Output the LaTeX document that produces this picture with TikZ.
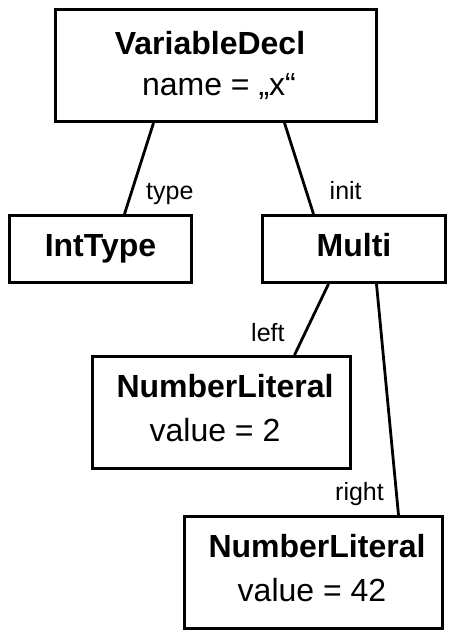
\documentclass[tikz,border=0pt]{standalone}
\usepackage{fontspec}
\setmainfont{Liberation Sans}
\begin{document}
\begin{tikzpicture}[x=1pt,y=-1pt,
  box/.style={draw, line width=3pt, inner sep=0pt, align=center},
  bigtwo/.style={box, font=\fontsize{32}{44}\selectfont, minimum width=258pt, minimum height=112pt},
  small/.style={box, font=\fontsize{32}{38}\selectfont\bfseries, minimum height=67pt, text height=23pt, text depth=8pt},
  conn/.style={line width=2.8pt},
  lbl/.style={font=\fontsize{25}{30}\selectfont, inner sep=0pt, anchor=base west}]
\useasboundingbox (0,0) rectangle (456,639);
\node[box, font=\fontsize{32}{41}\selectfont, minimum width=321pt, minimum height=112pt] (vd) at (216,65.5)
  {{\bfseries VariableDecl}\hspace*{12pt}\\ \hspace*{6pt}name = „x“};
\node[small, minimum width=182pt] (it) at (100.5,249) {IntType};
\node[small, minimum width=183pt] (mu) at (354,249) {Multi};
\node[bigtwo] (nl1) at (221.5,412.5)
  {\hspace*{7pt}{\bfseries NumberLiteral}\\ value = 2\hspace*{13pt}\rule[-9pt]{0pt}{0pt}};
\node[bigtwo] (nl2) at (313.5,572.5)
  {\hspace*{7pt}{\bfseries NumberLiteral}\\ value = 42\hspace*{3pt}\rule[-9pt]{0pt}{0pt}};
\draw[conn] ([xshift=99.5pt]vd.south west) -- ([xshift=116.5pt]it.north west);
\draw[conn] ([xshift=230.5pt]vd.south west) -- ([xshift=52.5pt]mu.north west);
\draw[conn] ([xshift=67.5pt]mu.south west) -- ([xshift=203.5pt]nl1.north west);
\draw[conn] ([xshift=115.5pt]mu.south west) -- ([xshift=215.5pt]nl2.north west);
\node[lbl] (ltype) at (146,199) {type};
\node[lbl] (linit) at (329.5,199) {init};
\node[lbl] (lleft) at (251,341.5) {left};
\node[lbl] (lright) at (335,500) {right};
\end{tikzpicture}
\end{document}
